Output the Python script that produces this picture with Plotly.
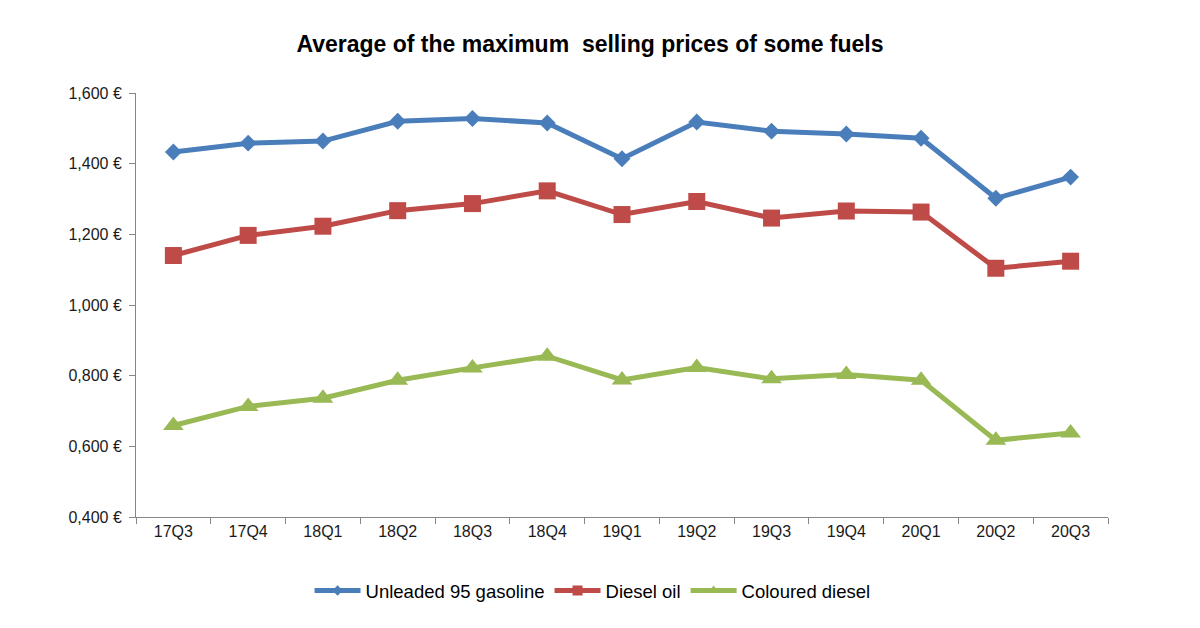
import plotly.graph_objects as go

quarters = ["17Q3", "17Q4", "18Q1", "18Q2", "18Q3", "18Q4", "19Q1", "19Q2", "19Q3", "19Q4", "20Q1", "20Q2", "20Q3"]
gasoline = [1.433, 1.458, 1.464, 1.520, 1.528, 1.515, 1.414, 1.518, 1.492, 1.484, 1.472, 1.302, 1.362]
diesel = [1.140, 1.197, 1.223, 1.267, 1.287, 1.323, 1.256, 1.293, 1.246, 1.266, 1.263, 1.104, 1.124]
coloured = [0.659, 0.713, 0.736, 0.787, 0.822, 0.855, 0.788, 0.823, 0.791, 0.803, 0.787, 0.617, 0.638]

ytick_vals = [0.4, 0.6, 0.8, 1.0, 1.2, 1.4, 1.6]
ytick_text = ["0,400 €", "0,600 €", "0,800 €", "1,000 €", "1,200 €", "1,400 €", "1,600 €"]

series = [
    ("Unleaded 95 gasoline", gasoline, "#4A7EBB", "diamond", 13, 8),
    ("Diesel oil", diesel, "#BE4B48", "square", 17, 10),
    ("Coloured diesel", coloured, "#98B954", "triangle-up", 18, 10),
]

fig = go.Figure()
for name, vals, col, sym, sz, lsz in series:
    fig.add_trace(go.Scatter(
        x=quarters, y=vals, name=name, mode="lines+markers", showlegend=False,
        line=dict(color=col, width=5),
        marker=dict(symbol=sym, size=sz, color=col),
    ))
for name, vals, col, sym, sz, lsz in series:
    # legend entry with small marker, as in the original
    fig.add_trace(go.Scatter(
        x=[None], y=[None], name=name, mode="lines+markers", showlegend=True,
        line=dict(color=col, width=5),
        marker=dict(symbol=sym, size=lsz, color=col),
    ))

axis_col = "#878787"
fig.update_layout(
    width=1200, height=628,
    paper_bgcolor="white", plot_bgcolor="white",
    margin=dict(l=128, r=100, t=85, b=119),
    font=dict(family="Liberation Sans, Arial, sans-serif", size=16, color="#1a1a1a"),
    title=dict(text="<b>Average of the maximum  selling prices of some fuels</b>",
               x=0.485, xanchor="center", y=0.943, yanchor="middle",
               font=dict(size=23, color="#000000")),
    showlegend=True,
    legend=dict(orientation="h", x=0.4697, xanchor="center", y=-0.1745, yanchor="middle",
                font=dict(size=18.5, color="#000000"), itemwidth=46, tracegroupgap=0),
    xaxis=dict(
        type="category", showgrid=False, showline=True, linecolor=axis_col, linewidth=1,
        ticks="outside", tickson="boundaries", ticklen=6, tickcolor=axis_col,
        tickfont=dict(size=16, color="#1a1a1a"), range=[-0.5, 12.5],
    ),
    yaxis=dict(
        range=[0.4, 1.6], showgrid=False, zeroline=False, showline=True, linecolor=axis_col,
        linewidth=1, ticks="outside", ticklen=6, tickcolor=axis_col, ticklabelstandoff=4,
        tickvals=ytick_vals, ticktext=ytick_text, tickfont=dict(size=16, color="#1a1a1a"),
    ),
)

fig.write_html("out.html")
